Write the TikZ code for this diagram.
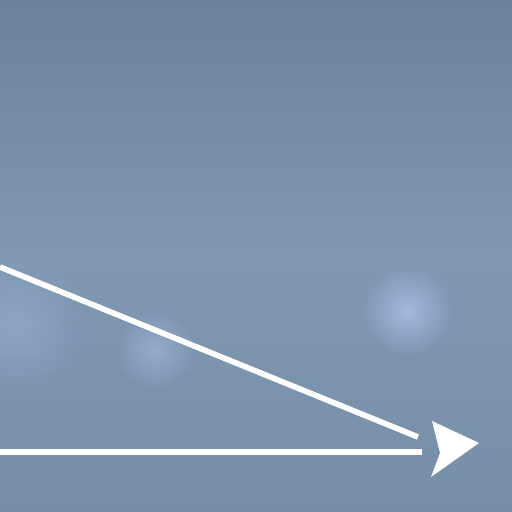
\documentclass[tikz,border=0pt]{standalone}
\usetikzlibrary{fadings}
\definecolor{skytop}{RGB}{106,131,156}
\definecolor{skymid}{RGB}{128,152,178}
\definecolor{skylow}{RGB}{118,143,168}
\definecolor{skyglow}{RGB}{170,195,235}
\tikzfading[name=soft glow,inner color=transparent!0,outer color=transparent!100]
\tikzset{%
    Ray line/.style={%
        white,
        line width=1.6pt,
        line cap=butt
    },
    Ray head/.style={%
        fill=white,
        draw=none
    },
    Glow/.style={%
        fill=skyglow,
        path fading=soft glow,
        opacity=.8
    }
}
\begin{document}
\begin{tikzpicture}
\useasboundingbox (0,0) rectangle (5.12,5.12);
% fond nuageux
\shade[top color=skytop,bottom color=skylow,middle color=skymid]
    (0,0) rectangle (5.12,5.12);
\fill[Glow] (4.07,2.01) circle (.45);
\fill[Glow,opacity=.5] (1.55,1.62) circle (.4);
\fill[Glow,opacity=.35] (0.15,1.85) circle (.7);

\coordinate (A) at (0,2.45);
\coordinate (B) at (4.18,0.75);
\coordinate (C) at (0,0.60);
\coordinate (D) at (4.22,0.60);

\draw[Ray line] (A) -- (B);
\draw[Ray line] (C) -- (D);

\fill[Ray head]
        (4.79,0.69) coordinate (T)
    --  (4.32,0.91) coordinate (H)
    --  (4.40,0.59) coordinate (N)
    --  (4.31,0.35) coordinate (L)
    --cycle ;
\end{tikzpicture}
\end{document}
